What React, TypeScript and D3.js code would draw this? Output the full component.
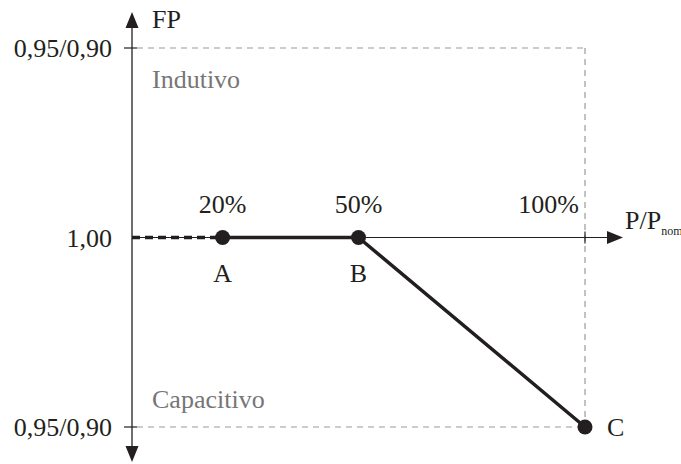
import React from "react";
import * as d3 from "d3";

const pctTicks = [20, 50, 100];
const pctLabels = ["20%", "50%", "100%"];
const fpLevels = [1, 0, -1];
const fpLabels = ["0,95/0,90", "1,00", "0,95/0,90"];
const curveP = [20, 50, 100];
const curveFP = [0, 0, -1];
const pointNames = ["A", "B", "C"];

const W = 681;
const H = 464;
const FONT = "'Liberation Serif', 'Times New Roman', serif";

export default function App() {
  const x = d3.scaleLinear().domain([0, 100]).range([132, 585]);
  const y = d3.scaleLinear().domain([-1, 1]).range([427, 48]);
  const x0 = x(0);
  const y0 = y(0);
  const line = d3
    .line<number>()
    .x((_, i) => x(curveP[i]))
    .y((_, i) => y(curveFP[i]));
  const pts = curveP.map((_, i) => i);
  const xEnd = 623;
  const yTop = 12;
  const yBot = 462;
  const black = "#231f20";
  const gray = "#9a9a9a";
  return (
    <svg
      width={W}
      height={H}
      style={{ position: "absolute", left: 0, top: 0, background: "#fff" }}
      fontFamily={FONT}
    >
      {/* gray dashed frame */}
      <line x1={x0 + 5} x2={x(100)} y1={y(1)} y2={y(1)} stroke={gray} strokeWidth={1.2} strokeDasharray="6,5" />
      <line x1={x0 + 5} x2={x(100)} y1={y(-1)} y2={y(-1)} stroke={gray} strokeWidth={1.2} strokeDasharray="6,5" />
      <line x1={x(100)} x2={x(100)} y1={y(1)} y2={y(-1)} stroke={gray} strokeWidth={1.2} strokeDasharray="6,5" />

      {/* vertical axis */}
      <line x1={x0} x2={x0} y1={yTop + 14} y2={yBot - 14} stroke={black} strokeWidth={1.3} />
      <path d={`M${x0},${yTop} L${x0 - 6.5},${yTop + 16} L${x0 + 6.5},${yTop + 16} Z`} fill={black} />
      <path d={`M${x0},${yBot} L${x0 - 6.5},${yBot - 16} L${x0 + 6.5},${yBot - 16} Z`} fill={black} />

      {/* horizontal axis */}
      <line x1={x0} x2={xEnd - 14} y1={y0} y2={y0} stroke={black} strokeWidth={1.2} />
      <path d={`M${xEnd},${y0} L${xEnd - 16},${y0 - 6.5} L${xEnd - 16},${y0 + 6.5} Z`} fill={black} />
      <line x1={x(100)} x2={x(100)} y1={y0 - 6} y2={y0 + 6} stroke={black} strokeWidth={1.2} />

      {/* y ticks */}
      {fpLevels.map((v, i) => (
        <g key={"yt" + i}>
          {v !== 0 && <line x1={x0 - 8} x2={x0 + 5} y1={y(v)} y2={y(v)} stroke={black} strokeWidth={1.2} />}
          <text x={112} y={y(v) + 9} fontSize={26} textAnchor="end" fill={black}>
            {fpLabels[i]}
          </text>
        </g>
      ))}

      <text x={152} y={28} fontSize={26} fill={black}>FP</text>
      <text x={152} y={88} fontSize={26} fill="#767676">Indutivo</text>
      <text x={152} y={408} fontSize={26} fill="#767676">Capacitivo</text>

      <text x={625} y={229} fontSize={26} fill={black}>
        P/P<tspan fontSize={12} dy={6}>nom</tspan>
      </text>

      {/* percent labels */}
      {pctTicks.map((p, i) => (
        <text
          key={"pt" + i}
          x={p === 100 ? x(p) - 6 : x(p)}
          y={y0 - 25}
          fontSize={26}
          textAnchor={p === 100 ? "end" : "middle"}
          fill={black}
        >
          {pctLabels[i]}
        </text>
      ))}

      {/* dashed lead-in */}
      <line x1={x0} x2={x(curveP[0])} y1={y0} y2={y0} stroke={black} strokeWidth={3.5} strokeDasharray="8,5" />
      {/* curve */}
      <path d={line(pts) || ""} fill="none" stroke={black} strokeWidth={3.5} strokeLinejoin="round" />

      {pts.map((i) => (
        <circle key={"c" + i} cx={x(curveP[i])} cy={y(curveFP[i])} r={7.5} fill={black} />
      ))}

      {pts.map((i) =>
        i < 2 ? (
          <text key={"n" + i} x={x(curveP[i])} y={y0 + 44} fontSize={26} textAnchor="middle" fill={black}>
            {pointNames[i]}
          </text>
        ) : (
          <text key={"n" + i} x={x(curveP[i]) + 22} y={y(curveFP[i]) + 9} fontSize={26} fill={black}>
            {pointNames[i]}
          </text>
        )
      )}
    </svg>
  );
}
